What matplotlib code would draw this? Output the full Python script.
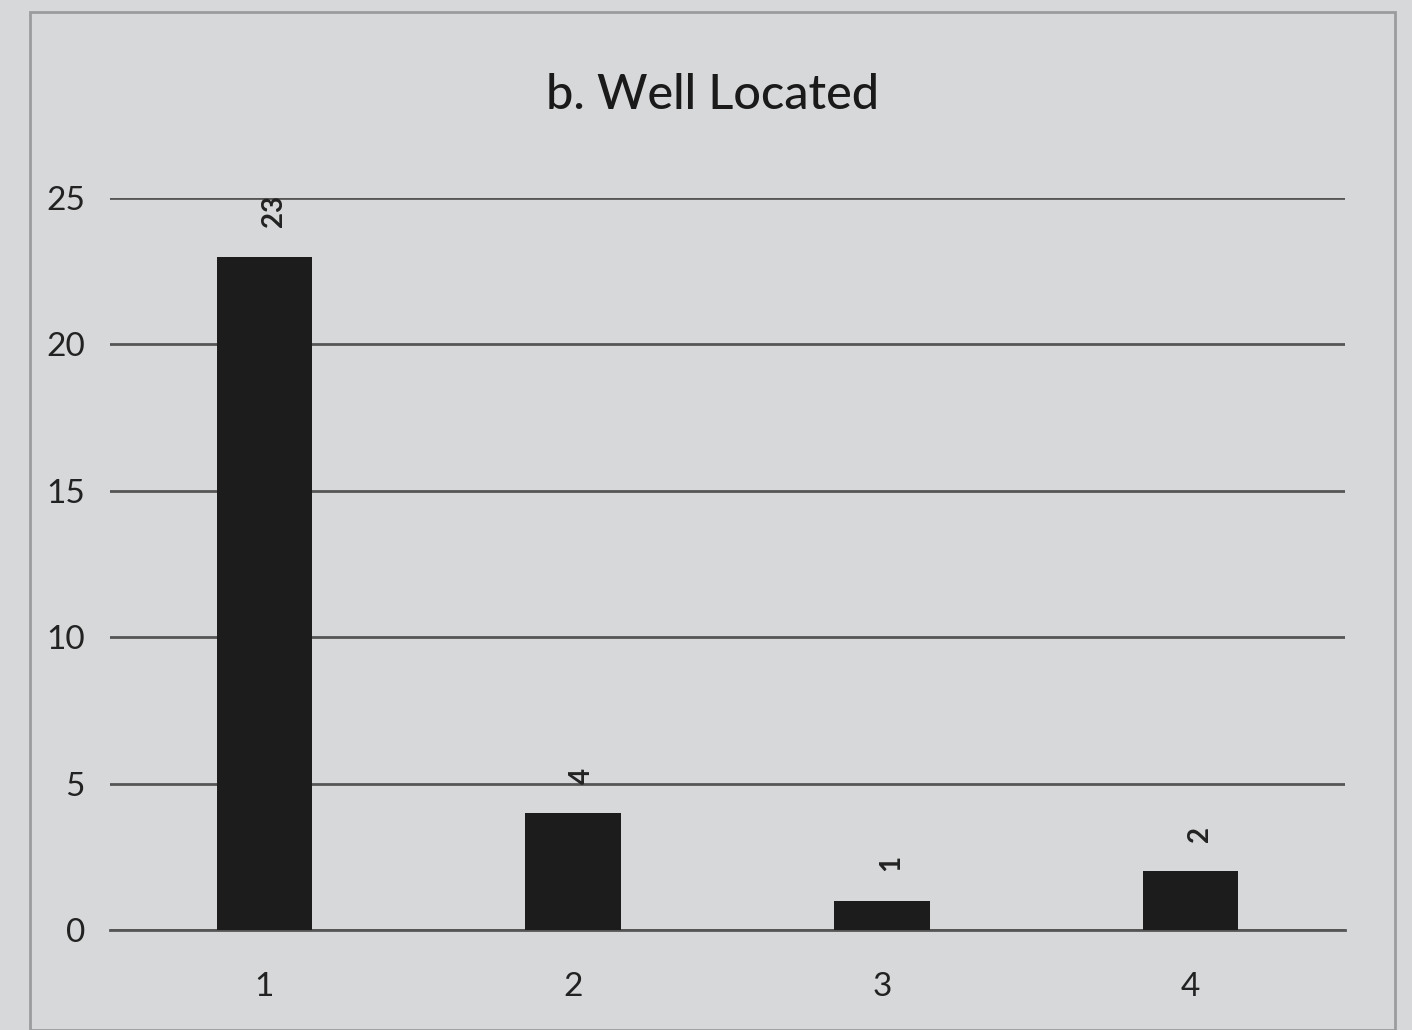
import matplotlib
matplotlib.use("Agg")
import matplotlib.pyplot as plt
from matplotlib.patches import Rectangle

categories = ["1", "2", "3", "4"]
values = [23, 4, 1, 2]
yticks = [0, 5, 10, 15, 20, 25]
title = "b. Well Located"

plt.rcParams["font.family"] = ["Lato", "DejaVu Sans"]
bg = "#d6d8d9"
fig = plt.figure(figsize=(14.12, 10.30), dpi=100, facecolor=bg)
fig.patches.append(Rectangle((30/1412, 0), (1395-30)/1412, (1030-12)/1030,
                             transform=fig.transFigure, fill=False,
                             edgecolor="#9a9c9d", linewidth=2))
ax = fig.add_axes([110/1412, 100/1030, (1345-110)/1412, (930-198)/1030])
ax.set_facecolor(bg)
x = list(range(1, len(categories) + 1))
ax.bar(x, values, width=0.31, color="#1c1c1c", zorder=3)
ax.set_xlim(0.5, 4.5)
ax.set_ylim(0, 25)
ax.set_yticks(yticks)
ax.set_xticks(x)
ax.set_xticklabels(categories)
ax.yaxis.grid(True, color="#555555", linewidth=2)
ax.set_axisbelow(True)
for s in ax.spines.values():
    s.set_visible(False)
ax.spines["bottom"].set_visible(True)
ax.spines["bottom"].set_color("#555555")
ax.spines["bottom"].set_linewidth(2)
ax.tick_params(length=0, labelsize=24, colors="#222222")
ax.tick_params(axis="x", pad=30)
ax.tick_params(axis="y", pad=18)
for xi, v in zip(x, values):
    ax.text(xi + 0.03, v + 1.0, str(v), rotation=90, ha="center", va="bottom",
            fontsize=20, fontweight="bold", color="#222222", clip_on=False)
fig.text(712/1412, 1 - 95/1030, title, ha="center", va="center",
         fontsize=35, fontweight="medium", color="#1a1a1a")
fig.savefig("out.png", dpi=100, facecolor=bg)
